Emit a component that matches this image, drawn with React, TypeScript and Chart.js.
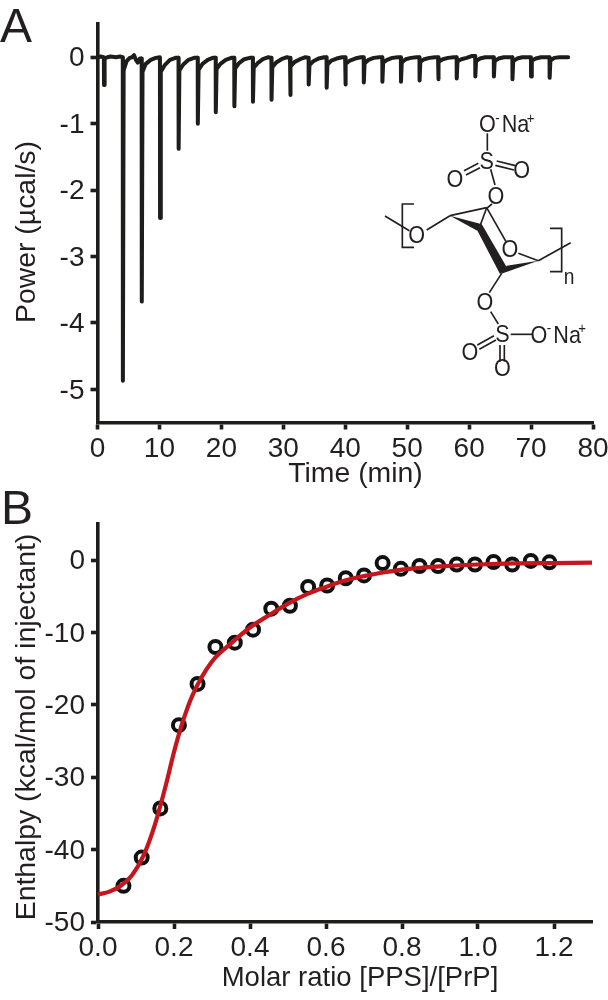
import React, { useEffect, useRef } from "react";
import { Chart, registerables } from "chart.js";

Chart.register(...registerables);

const INK = "#1d1d1b";
const TEXT = "#231f20";
const RED = "#c5161d";
const FONT = "'Liberation Sans', Arial, sans-serif";

// Panel A: raw thermogram, [time in min, power in µcal/s]
const thermogram: [number, number][] = [
  [0.0, 0.0], [0.5, 0.01], [1.03, 0.0], [1.05, -0.42], [1.15, -0.02], [1.6, 0.0], [2.1, 0.01], [3.0, 0.0], [3.6, 0.01],
  [4.08, 0.0], [4.1, -4.87], [4.22, -0.2], [4.7, -0.06], [5.2, -0.01], [5.6, 0.0], [5.9, 0.03], [6.2, -0.04], [6.5, -0.08], [6.85, -0.02],
  [7.13, -0.02], [7.15, -3.68], [7.27, -0.22], [7.8, -0.1], [8.6, -0.04], [9.4, -0.01],
  [10.08, 0.0], [10.1, -2.42], [10.22, -0.22], [10.85, -0.12], [11.7, -0.04], [12.6, -0.01],
  [13.08, -0.01], [13.1, -1.38], [13.22, -0.2], [13.85, -0.11], [14.7, -0.04], [15.6, -0.01],
  [16.18, -0.01], [16.2, -1.0], [16.32, -0.19], [16.95, -0.1], [17.8, -0.04], [18.6, -0.01],
  [19.08, -0.01], [19.1, -0.83], [19.22, -0.18], [19.85, -0.1], [20.7, -0.04], [21.6, -0.01],
  [22.08, -0.01], [22.1, -0.74], [22.22, -0.17], [22.85, -0.09], [23.7, -0.03], [24.6, -0.01],
  [25.08, -0.01], [25.1, -0.67], [25.22, -0.16], [25.85, -0.09], [26.7, -0.03], [27.6, 0.0],
  [28.08, -0.01], [28.1, -0.64], [28.22, -0.15], [28.85, -0.08], [29.7, -0.03], [30.6, 0.0],
  [31.08, -0.01], [31.1, -0.57], [31.22, -0.14], [31.85, -0.07], [32.7, -0.03], [33.6, 0.0],
  [34.08, -0.01], [34.1, -0.41], [34.22, -0.12], [34.85, -0.06], [35.7, -0.02], [36.6, 0.0],
  [36.98, 0.0], [37.0, -0.46], [37.12, -0.11], [37.75, -0.05], [38.6, -0.02], [39.5, 0.0],
  [39.98, 0.0], [40.0, -0.41], [40.12, -0.1], [40.75, -0.05], [41.6, -0.02], [42.5, 0.0],
  [42.98, 0.0], [43.0, -0.38], [43.12, -0.09], [43.75, -0.04], [44.6, -0.01], [45.5, 0.0],
  [45.98, 0.0], [46.0, -0.37], [46.12, -0.08], [46.75, -0.04], [47.6, -0.01], [48.5, 0.0],
  [48.98, 0.0], [49.0, -0.37], [49.12, -0.08], [49.75, -0.03], [50.6, -0.01], [51.5, 0.0],
  [51.98, 0.0], [52.0, -0.35], [52.12, -0.07], [52.75, -0.03], [53.6, -0.01], [54.5, 0.0],
  [54.98, 0.0], [55.0, -0.33], [55.12, -0.07], [55.75, -0.03], [56.6, -0.01], [57.5, 0.0],
  [57.98, 0.0], [58.0, -0.32], [58.12, -0.06], [58.75, -0.03], [59.6, -0.01], [60.5, 0.02],
  [60.98, 0.02], [61.0, -0.29], [61.12, -0.06], [61.75, -0.02], [62.6, 0.0], [63.5, 0.0],
  [63.98, 0.0], [64.0, -0.29], [64.12, -0.06], [64.75, -0.02], [65.6, 0.0], [66.5, 0.0],
  [66.98, 0.0], [67.0, -0.33], [67.12, -0.06], [67.75, -0.02], [68.6, 0.0], [69.5, 0.0],
  [69.98, 0.0], [70.0, -0.29], [70.12, -0.05], [70.75, -0.02], [71.6, 0.0], [72.5, 0.0],
  [72.98, 0.0], [73.0, -0.31], [73.12, -0.05], [73.75, -0.01], [74.6, 0.0], [76.0, 0.0],
];
const timeTicks = [0, 10, 20, 30, 40, 50, 60, 70, 80];
const powerTicks = [0, -1, -2, -3, -4, -5];

// Panel B: integrated heats, [molar ratio, enthalpy]
const heats: [number, number][] = [
  [0.067, -45.0], [0.115, -41.1], [0.164, -34.3], [0.213, -22.8], [0.262, -17.1], [0.309, -12.0],
  [0.36, -11.4], [0.408, -9.6], [0.456, -6.7], [0.505, -6.3], [0.553, -3.7], [0.603, -3.5],
  [0.652, -2.5], [0.7, -2.1], [0.749, -0.4], [0.797, -1.2], [0.846, -0.8], [0.895, -0.8],
  [0.944, -0.6], [0.992, -0.6], [1.041, -0.25], [1.09, -0.6], [1.139, -0.1], [1.188, -0.3],
];
const fitCurve: [number, number][] = [
  [0.0, -46.2], [0.03, -45.8], [0.06, -45.0], [0.09, -43.5], [0.12, -40.8], [0.15, -36.5], [0.18, -30.8],
  [0.2, -26.5], [0.225, -22.0], [0.25, -18.5], [0.3, -14.0], [0.35, -11.5], [0.4, -9.3], [0.45, -7.6],
  [0.5, -6.0], [0.55, -4.7], [0.6, -3.7], [0.65, -2.8], [0.7, -2.2], [0.75, -1.7], [0.8, -1.3],
  [0.9, -0.85], [1.0, -0.6], [1.1, -0.45], [1.2, -0.4], [1.3, -0.35],
];
const ratioTicks = [0, 0.2, 0.4, 0.6, 0.8, 1.0, 1.2];
const enthalpyTicks = [0, -10, -20, -30, -40, -50];

const toXY = (rows: [number, number][]) => rows.map(([x, y]) => ({ x, y }));

const TICK_SIZE = 28;
const TITLE_SIZE = 28.4;
const RULE = 3.6;

function axis(opts: {
  min: number; max: number; ticks: number[];
  format: (v: number) => string; size: number; pad: number; horizontal: boolean;
}) {
  return {
    type: "linear",
    min: opts.min,
    max: opts.max,
    afterBuildTicks: (s: any) => { s.ticks = opts.ticks.map((value) => ({ value })); },
    afterFit: (s: any) => {
      if (opts.horizontal) s.height = opts.size; else s.width = opts.size;
      s.paddingLeft = s.paddingRight = s.paddingTop = s.paddingBottom = 0;
    },
    border: { display: true, color: INK, width: RULE },
    grid: { display: true, drawOnChartArea: false, drawTicks: true, tickLength: 7, tickWidth: RULE, tickColor: INK, color: INK },
    ticks: {
      autoSkip: false, maxRotation: 0, padding: opts.pad, color: TEXT,
      labelOffset: opts.horizontal ? 0 : 1.5,
      font: { family: FONT, size: TICK_SIZE },
      callback: (v: any) => opts.format(Number(v)),
    },
  };
}

// The axis titles sit off-centre in the reference, so they are placed explicitly.
const axisTitles = {
  id: "axisTitles",
  afterDraw(chart: any, _a: any, o: any) {
    const c = chart.ctx;
    for (const t of o.items) {
      c.save();
      c.translate(t.x, t.y);
      if (t.vertical) c.rotate(-Math.PI / 2);
      c.font = `${t.size ?? TITLE_SIZE}px ${FONT}`;
      c.fillStyle = TEXT;
      c.textAlign = "center";
      c.textBaseline = "alphabetic";
      c.fillText(t.text, 0, 0);
      c.restore();
    }
  },
};

const baseOptions = {
  responsive: false,
  animation: false as const,
  events: [],
};

function Molecule() {
  const s = { stroke: TEXT, strokeWidth: 5, fill: "none" };
  const lines = [
    [352, 100, 352, 152], [380, 183, 436, 197], [376, 196, 432, 210], [325, 190, 282, 212], [330, 203, 288, 225],
    [362, 208, 375, 255], [366, 312, 350, 325], [240, 347, 350, 323], [350, 323, 330, 378], [350, 323, 408, 425],
    [445, 460, 505, 482], [395, 520, 358, 578], [362, 635, 385, 672], [422, 703, 487, 703],
    [372, 707, 322, 735], [378, 720, 328, 748], [390, 735, 390, 785], [403, 735, 403, 785],
    [170, 390, 240, 347], [45, 348, 118, 392], [505, 482, 602, 428],
  ];
  const text = (x: number, y: number, t: string, fs = 72, anchor = "middle") => (
    <text transform={`translate(${x} ${y}) scale(0.9 1)`} fontSize={fs} fontFamily={FONT} fill={TEXT} textAnchor={anchor}>{t}</text>
  );
  return (
    <svg width={230} height={290} viewBox="0 0 690 870" style={{ position: "absolute", left: 370, top: 100 }}>
      {lines.map((l, i) => <line key={i} x1={l[0]} y1={l[1]} x2={l[2]} y2={l[3]} {...s} />)}
      <polyline points="132,312 97,312 97,442 132,442" {...s} />
      <polyline points="540,385 575,385 575,515 540,515" {...s} />
      <polygon points="240,347 333,372 322,392" fill={TEXT} />
      <polygon points="320,388 335,372 412,505 390,522" fill={TEXT} />
      <polygon points="392,522 410,497 505,482" fill={TEXT} />
      {text(352, 96, "O")}
      {text(376, 68, "-", 44, "start")}
      {text(395, 96, "Na", 72, "start")}
      {text(470, 68, "+", 44, "start")}
      {text(350, 206, "S")}
      {text(455, 234, "O")}
      {text(255, 260, "O")}
      {text(378, 312, "O")}
      {text(140, 430, "O")}
      {text(420, 472, "O")}
      {text(597, 552, "n", 64)}
      {text(345, 631, "O")}
      {text(397, 726, "S")}
      {text(507, 728, "O")}
      {text(530, 700, "-", 44, "start")}
      {text(550, 728, "Na", 72, "start")}
      {text(625, 700, "+", 44, "start")}
      {text(300, 780, "O")}
      {text(397, 828, "O")}
    </svg>
  );
}

const panelLetter = (top: number, left: number, t: string) => (
  <div style={{ position: "absolute", left, top, fontFamily: FONT, fontSize: 48, lineHeight: "48px", color: TEXT }}>{t}</div>
);

export default function App() {
  const aRef = useRef<HTMLCanvasElement>(null);
  const bRef = useRef<HTMLCanvasElement>(null);

  useEffect(() => {
    const a = new Chart(aRef.current!, {
      type: "line",
      plugins: [axisTitles],
      data: {
        datasets: [{
          data: toXY(thermogram), borderColor: INK, borderWidth: 4, pointRadius: 0, tension: 0,
          borderJoinStyle: "round", borderCapStyle: "round", clip: false,
        }],
      },
      options: {
        ...baseOptions,
        layout: { padding: { top: 24, right: 15, left: 0, bottom: 0 } },
        plugins: {
          legend: { display: false }, tooltip: { enabled: false },
          axisTitles: {
            items: [
              { text: "Time (min)", x: 355.5, y: 482 },
              { text: "Power (µcal/s)", x: 35, y: 232, vertical: true },
            ],
          },
        },
        scales: {
          x: axis({ min: 0, max: 80, ticks: timeTicks, format: (v) => String(v), size: 77.5, pad: 3, horizontal: true }),
          y: axis({ min: -5.5, max: 0.5, ticks: powerTicks, format: (v) => String(v), size: 97.5, pad: 6, horizontal: false }),
        },
      } as any,
    });
    const b = new Chart(bRef.current!, {
      type: "line",
      plugins: [axisTitles],
      data: {
        datasets: [
          {
            data: toXY(fitCurve), borderColor: RED, borderWidth: 4.2, pointRadius: 0,
            cubicInterpolationMode: "monotone", borderCapStyle: "butt", clip: false,
          },
          {
            data: toXY(heats), showLine: false, pointStyle: "circle", pointRadius: 6,
            pointBorderWidth: 4, pointBorderColor: "#111111", pointBackgroundColor: "rgba(0,0,0,0)", clip: false,
          },
        ],
      },
      options: {
        ...baseOptions,
        layout: { padding: { top: 24, right: 16, left: 0, bottom: 0 } },
        plugins: {
          legend: { display: false }, tooltip: { enabled: false },
          axisTitles: {
            items: [
              { text: "Molar ratio [PPS]/[PrP]", x: 360, y: 486, size: 27.5 },
              { text: "Enthalpy (kcal/mol of injectant)", x: 35, y: 227, vertical: true },
            ],
          },
        },
        scales: {
          x: axis({ min: 0, max: 1.3, ticks: ratioTicks, format: (v) => v.toFixed(1), size: 78, pad: 2, horizontal: true }),
          y: axis({ min: -50, max: 5, ticks: enthalpyTicks, format: (v) => String(v), size: 98, pad: 6, horizontal: false }),
        },
      } as any,
    });
    return () => { a.destroy(); b.destroy(); };
  }, []);

  return (
    <div style={{ position: "absolute", left: 0, top: 0, width: 608, height: 1000, background: "#fff", overflow: "hidden" }}>
      <canvas ref={aRef} width={608} height={500} style={{ position: "absolute", left: 0, top: 0, display: "block" }} />
      <canvas ref={bRef} width={608} height={500} style={{ position: "absolute", left: 0, top: 500, display: "block" }} />
      {panelLetter(2, 0, "A")}
      {panelLetter(484, 1, "B")}
      <Molecule />
    </div>
  );
}
